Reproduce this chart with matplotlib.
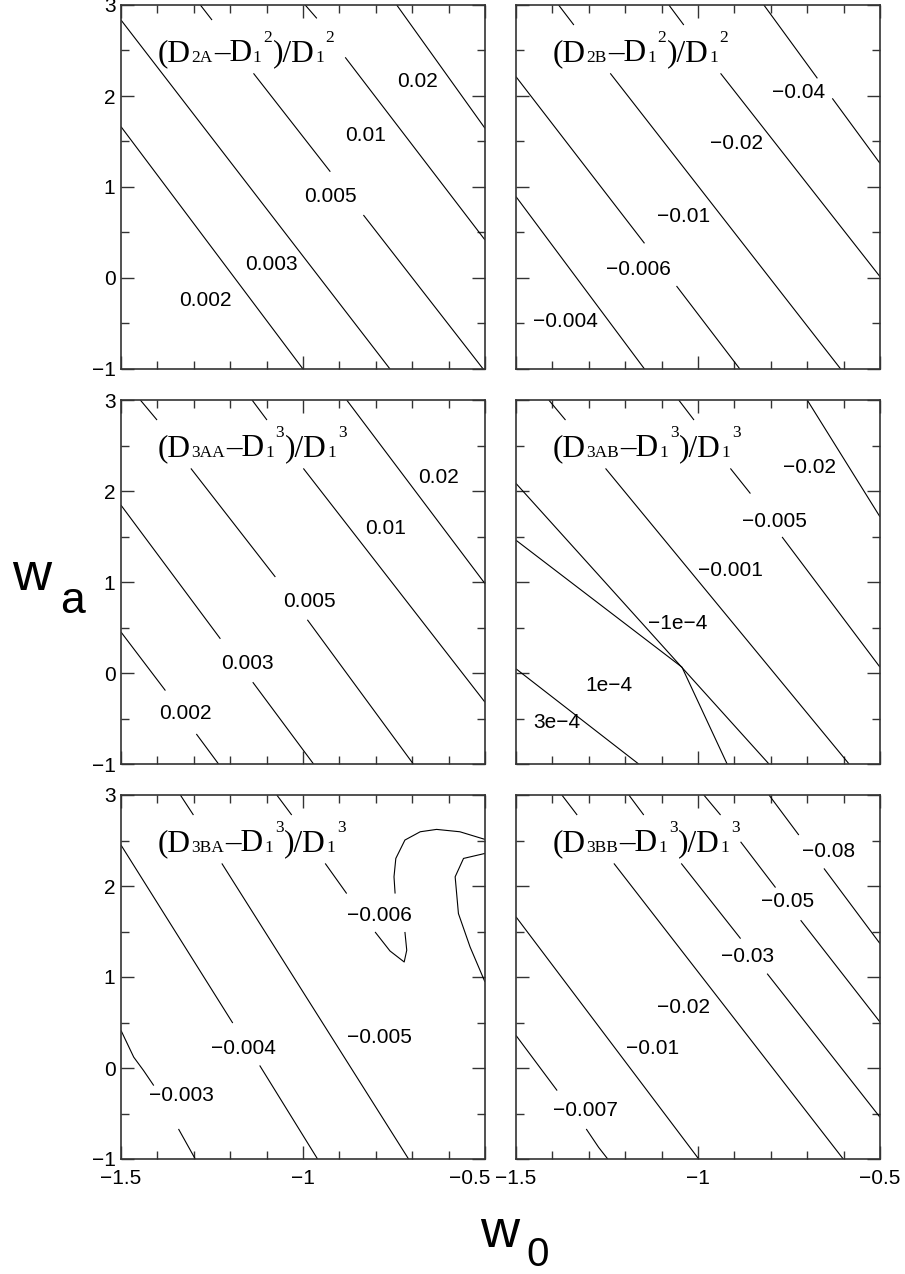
import matplotlib
matplotlib.use('Agg')
import matplotlib.pyplot as plt
from matplotlib.ticker import MultipleLocator, FixedLocator
from matplotlib import transforms

M = "\u2212"

# ---------------- data (w0, wa) ----------------
W0_TICKS = [-1.5, -1.0, -0.5]
W0_TICK_LABELS = [M + "1.5", M + "1", M + "0.5"]
WA_TICKS = [-1, 0, 1, 2, 3]
WA_TICK_LABELS = [M + "1", "0", "1", "2", "3"]

# Panel (D2A - D1^2)/D1^2
TL_LEVELS = ["0.002", "0.003", "0.005", "0.01", "0.02"]
TL_LINES = [
    [[(-1.5, 1.663), (-1.0, -1.0)]],
    [[(-1.5, 2.835), (-0.761, -1.0)]],
    [[(-1.282, 3.0), (-1.250, 2.835)], [(-1.136, 2.249), (-0.925, 1.168)], [(-0.834, 0.692), (-0.505, -1.0)]],
    [[(-0.994, 3.0), (-0.962, 2.853)], [(-0.884, 2.425), (-0.5, 0.418)]],
    [[(-0.7425, 3.0), (-0.5, 1.645)]],
]
TL_LAB_W0 = [-1.269, -1.088, -0.925, -0.829, -0.686]
TL_LAB_WA = [-0.242, 0.143, 0.894, 1.571, 2.158]
TL_TITLE = [("(D", "n"), ("2A", "sub"), ("\u2013D", "n"), ("1", "sub"), ("2", "sup"),
            (")/D", "n"), ("1", "sub"), ("2", "sup")]

# Panel (D2B - D1^2)/D1^2
TR_LEVELS = [M + "0.004", M + "0.006", M + "0.01", M + "0.02", M + "0.04"]
TR_LINES = [
    [[(-1.5, 0.894), (-1.147, -1.0)]],
    [[(-1.5, 2.212), (-1.147, 0.381)], [(-1.059, -0.088), (-0.885, -1.0)]],
    [[(-1.383, 3.0), (-1.341, 2.780)], [(-1.241, 2.249), (-0.608, -1.0)]],
    [[(-1.080, 3.0), (-1.039, 2.780)], [(-0.938, 2.249), (-0.5, 0.015)]],
    [[(-0.819, 3.0), (-0.672, 2.194)], [(-0.631, 1.974), (-0.5, 1.260)]],
]
TR_LAB_W0 = [-1.364, -1.163, -1.041, -0.894, -0.723]
TR_LAB_WA = [-0.480, 0.095, 0.674, 1.473, 2.037]
TR_TITLE = [("(D", "n"), ("2B", "sub"), ("\u2013D", "n"), ("1", "sub"), ("2", "sup"),
            (")/D", "n"), ("1", "sub"), ("2", "sup")]

# Panel (D3AA - D1^3)/D1^3
ML_LEVELS = ["0.002", "0.003", "0.005", "0.01", "0.02"]
ML_LINES = [
    [[(-1.5, 0.450), (-1.378, -0.193)], [(-1.293, -0.670), (-1.232, -1.0)]],
    [[(-1.5, 1.844), (-1.227, 0.376)], [(-1.138, -0.101), (-0.971, -1.0)]],
    [[(-1.447, 3.0), (-1.401, 2.780)], [(-1.308, 2.248), (-1.076, 1.055)], [(-0.988, 0.585), (-0.697, -1.0)]],
    [[(-1.140, 3.0), (-1.099, 2.780)], [(-0.999, 2.248), (-0.5, -0.321)]],
    [[(-0.880, 3.0), (-0.5, 0.982)]],
]
ML_LAB_W0 = [-1.323, -1.154, -0.982, -0.774, -0.628]
ML_LAB_WA = [-0.450, 0.101, 0.791, 1.587, 2.149]
ML_TITLE = [("(D", "n"), ("3AA", "sub"), ("\u2013D", "n"), ("1", "sub"), ("3", "sup"),
            (")/D", "n"), ("1", "sub"), ("3", "sup")]

# Panel (D3AB - D1^3)/D1^3
MR_LEVELS = [M + "0.02", M + "0.005", M + "0.001", M + "1e" + M + "4", "1e" + M + "4", "3e" + M + "4"]
MR_LINES = [
    [[(-0.700, 3.0), (-0.5, 1.716)]],
    [[(-1.053, 3.0), (-1.011, 2.780)], [(-0.911, 2.248), (-0.856, 1.972)], [(-0.769, 1.495), (-0.5, 0.064)]],
    [[(-1.410, 3.0), (-1.364, 2.780)], [(-1.254, 2.248), (-0.585, -1.0)]],
    [[(-1.5, 2.083), (-0.805, -1.0)]],
    [[(-1.5, 1.459), (-1.044, 0.064), (-0.920, -1.0)]],
    [[(-1.5, 0.046), (-1.163, -1.0)]],
]
MR_LAB_W0 = [-0.695, -0.791, -0.911, -1.057, -1.245, -1.387]
MR_LAB_WA = [2.259, 1.661, 1.128, 0.541, -0.138, -0.541]
MR_TITLE = [("(D", "n"), ("3AB", "sub"), ("\u2013D", "n"), ("1", "sub"), ("3", "sup"),
            (")/D", "n"), ("1", "sub"), ("3", "sup")]

# Panel (D3BA - D1^3)/D1^3
BL_LEVELS = [M + "0.003", M + "0.004", M + "0.005", M + "0.006", ""]
BL_LINES = [
    [[(-1.5, 0.413), (-1.465, 0.119), (-1.438, -0.028), (-1.410, -0.193)], [(-1.342, -0.670), (-1.296, -1.0)]],
    [[(-1.5, 2.450), (-1.193, 0.494)], [(-1.119, 0.028), (-0.960, -1.0)]],
    [[(-1.337, 3.0), (-1.301, 2.780)], [(-1.223, 2.248), (-0.710, -1.0)]],
    [[(-1.072, 3.0), (-1.031, 2.780)], [(-0.939, 2.248), (-0.880, 1.917)],
     [(-0.802, 1.495), (-0.761, 1.286), (-0.722, 1.165), (-0.715, 1.294), (-0.720, 1.495)],
     [(-0.747, 1.917), (-0.750, 2.101), (-0.745, 2.303), (-0.720, 2.505), (-0.678, 2.596),
      (-0.633, 2.622), (-0.569, 2.596), (-0.5, 2.512)]],
    [[(-0.5, 2.358), (-0.559, 2.303), (-0.582, 2.101), (-0.573, 1.697), (-0.541, 1.330), (-0.5, 0.945)]],
]
BL_LAB_W0 = [-1.334, -1.163, -0.790, -0.790, None]
BL_LAB_WA = [-0.303, 0.211, 0.332, 1.679, None]
BL_TITLE = [("(D", "n"), ("3BA", "sub"), ("\u2013D", "n"), ("1", "sub"), ("3", "sup"),
            (")/D", "n"), ("1", "sub"), ("3", "sup")]

# Panel (D3BB - D1^3)/D1^3
BR_LEVELS = [M + "0.007", M + "0.01", M + "0.02", M + "0.03", M + "0.05", M + "0.08"]
BR_LINES = [
    [[(-1.5, 0.358), (-1.387, -0.248)], [(-1.307, -0.670), (-1.273, -0.872), (-1.248, -1.0)]],
    [[(-1.5, 1.661), (-0.998, -1.0)]],
    [[(-1.374, 3.0), (-1.332, 2.780)], [(-1.231, 2.248), (-0.601, -1.0)]],
    [[(-1.190, 3.0), (-1.149, 2.780)], [(-1.046, 2.248), (-0.883, 1.422)], [(-0.810, 1.037), (-0.5, -0.541)]],
    [[(-0.984, 3.0), (-0.938, 2.780)], [(-0.883, 2.486), (-0.787, 1.983)], [(-0.718, 1.624), (-0.5, 0.505)]],
    [[(-0.805, 3.0), (-0.723, 2.560)], [(-0.654, 2.193), (-0.5, 1.367)]],
]
BR_LAB_W0 = [-1.309, -1.126, -1.039, -0.865, -0.755, -0.640]
BR_LAB_WA = [-0.468, 0.211, 0.670, 1.220, 1.826, 2.376]
BR_TITLE = [("(D", "n"), ("3BB", "sub"), ("\u2013D", "n"), ("1", "sub"), ("3", "sup"),
            (")/D", "n"), ("1", "sub"), ("3", "sup")]

PANELS = [
    (TL_LINES, TL_LEVELS, TL_LAB_W0, TL_LAB_WA, TL_TITLE),
    (TR_LINES, TR_LEVELS, TR_LAB_W0, TR_LAB_WA, TR_TITLE),
    (ML_LINES, ML_LEVELS, ML_LAB_W0, ML_LAB_WA, ML_TITLE),
    (MR_LINES, MR_LEVELS, MR_LAB_W0, MR_LAB_WA, MR_TITLE),
    (BL_LINES, BL_LEVELS, BL_LAB_W0, BL_LAB_WA, BL_TITLE),
    (BR_LINES, BR_LEVELS, BR_LAB_W0, BR_LAB_WA, BR_TITLE),
]

# ---------------- layout ----------------
plt.rcParams['font.family'] = ['Liberation Sans', 'DejaVu Sans']
fig = plt.figure(figsize=(9.05, 12.74), dpi=100)
W, H = 905.0, 1274.0
col_left = [121, 516]
row_top = [5, 400, 795]
size_px = 364

renderer = fig.canvas.get_renderer()

def rich_title(ax, parts, x, y):
    xoff = 0.0
    sizes = {'n': 22.5, 'sub': 12.5, 'sup': 12.5}
    dys = {'n': 0.0, 'sub': -1.0, 'sup': 14.0}
    for txt, kind in parts:
        tr = transforms.offset_copy(ax.transAxes, fig=fig, x=xoff, y=dys[kind], units='points')
        t = ax.text(x, y, txt, transform=tr, fontsize=sizes[kind], family='Liberation Serif',
                    ha='left', va='baseline', color='black')
        w = t.get_window_extent(renderer=renderer).width
        xoff += w * 72.0 / fig.dpi + (1.2 if kind == 'sub' else 0.5)

for i, (lines, levels, lw0, lwa, title) in enumerate(PANELS):
    r, c = divmod(i, 2)
    left = col_left[c] / W
    bottom = 1 - (row_top[r] + size_px) / H
    ax = fig.add_axes([left, bottom, size_px / W, size_px / H])
    ax.set_xlim(-1.5, -0.5)
    ax.set_ylim(-1, 3)
    for segs in lines:
        for seg in segs:
            xs = [p[0] for p in seg]
            ys = [p[1] for p in seg]
            ax.plot(xs, ys, color='black', lw=0.8, solid_capstyle='butt')
    for lab, x, y in zip(levels, lw0, lwa):
        if x is None:
            continue
        ax.text(x, y, lab, fontsize=15, ha='center', va='center', color='black')
    rich_title(ax, title, 0.100, 0.846)

    ax.xaxis.set_major_locator(FixedLocator(W0_TICKS))
    ax.xaxis.set_minor_locator(MultipleLocator(0.1))
    ax.yaxis.set_major_locator(FixedLocator(WA_TICKS))
    ax.yaxis.set_minor_locator(MultipleLocator(0.5))
    ax.tick_params(which='both', direction='in', top=True, right=True, width=1.0, color='#333333')
    ax.tick_params(which='major', length=9.5, labelsize=15)
    ax.tick_params(which='minor', length=6)
    ax.tick_params(axis='x', which='major', pad=7)
    ax.tick_params(axis='y', which='major', pad=4)
    for s in ax.spines.values():
        s.set_linewidth(1.2)
        s.set_color('#333333')
    if r == 2:
        ax.set_xticklabels(W0_TICK_LABELS)
        if c == 0:
            lab = ax.get_xticklabels()[-1]
            lab.set_horizontalalignment('right')
            lab.set_transform(lab.get_transform() +
                              transforms.ScaledTranslation(5 / 100.0, 0, fig.dpi_scale_trans))
    else:
        ax.set_xticklabels([])
    if c == 0:
        ax.set_yticklabels(WA_TICK_LABELS)
    else:
        ax.set_yticklabels([])

# axis labels
fig.text(12 / W, 1 - 590 / H, "w", fontsize=39, ha='left', va='baseline')
fig.text(60 / W, 1 - 613 / H, "a", fontsize=32, ha='left', va='baseline')
fig.text(480 / W, 1 - 1247 / H, "w", fontsize=39, ha='left', va='baseline')
fig.text(526 / W, 1 - 1266 / H, "0", fontsize=29, ha='left', va='baseline')

fig.savefig('out.png', dpi=100)
